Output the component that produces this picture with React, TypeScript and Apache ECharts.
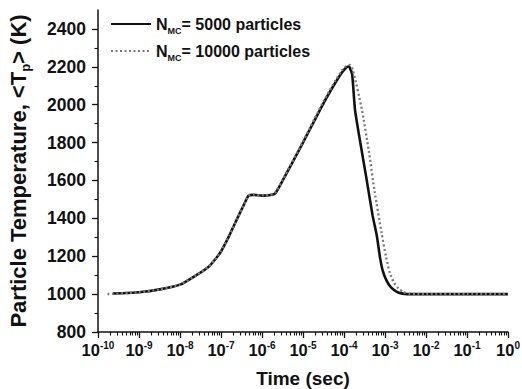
import React, { useEffect, useRef } from "react";
import * as echarts from "echarts";

// Time (s) and mean particle temperature (K)
const timeN5000 = [
  2.3e-10, 1e-9, 3.2e-9, 1e-8, 2.5e-8, 5e-8, 7e-8, 1e-7, 1.6e-7, 2.5e-7, 3.5e-7, 4.7e-7,
  6.3e-7, 1e-6, 1.6e-6, 2.1e-6, 3.2e-6, 1e-5, 3.2e-5, 6.3e-5, 8.9e-5, 1.12e-4, 1.26e-4, 1.35e-4,
  1.58e-4, 1.86e-4, 2.5e-4, 3.55e-4, 5e-4, 6.3e-4, 7.6e-4, 8.9e-4, 1.1e-3, 1.4e-3, 1.95e-3, 2.5e-3,
  3.5e-3, 1e-2, 1e-1, 1,
];
const tempN5000 = [
  1003, 1010, 1025, 1050, 1100, 1145, 1180, 1225, 1310, 1400, 1465, 1520,
  1524, 1520, 1523, 1532, 1600, 1800, 2010, 2120, 2170, 2195, 2202, 2200,
  2160, 1971, 1800, 1607, 1413, 1310, 1190, 1120, 1070, 1035, 1012, 1004,
  1000, 1000, 1000, 1000,
];

const timeN10000 = [
  1.7e-10, 1e-9, 3.2e-9, 1e-8, 2.5e-8, 5e-8, 7e-8, 1e-7, 1.6e-7, 2.5e-7, 3.5e-7, 4.7e-7,
  6.3e-7, 1e-6, 1.6e-6, 2.1e-6, 3.2e-6, 1e-5, 3.2e-5, 6.3e-5, 8.9e-5, 1.12e-4, 1.41e-4,
  1.66e-4, 2.75e-4, 4e-4, 5.6e-4, 8.3e-4, 1.05e-3, 1.32e-3, 1.66e-3, 2.1e-3, 2.8e-3, 4e-3,
  6.3e-3, 1e-2, 1e-1, 1,
];
const tempN10000 = [
  1000, 1010, 1025, 1050, 1100, 1145, 1180, 1225, 1310, 1400, 1465, 1520,
  1526, 1522, 1525, 1535, 1605, 1805, 2020, 2130, 2180, 2203, 2210,
  2180, 1971, 1760, 1540, 1320, 1200, 1110, 1060, 1031, 1010, 1002,
  1000, 1000, 1000, 1000,
];

const yTickValues = [800, 1000, 1200, 1400, 1600, 1800, 2000, 2200, 2400];
const yMinorTickValues = [900, 1100, 1300, 1500, 1700, 1900, 2100, 2300];
const xDecadeExponents = [-10, -9, -8, -7, -6, -5, -4, -3, -2, -1, 0];
const minorMultipliers = [2, 3, 4, 5, 6, 7, 8, 9];

const seriesNames = ["N5000", "N10000"];
const legendLabels: Record<string, string> = {
  N5000: "{n|N}{sub|MC}{n|= 5000 particles}",
  N10000: "{n|N}{sub|MC}{n|= 10000 particles}",
};

const FONT = "Liberation Sans, Arial, sans-serif";
const INK = "#111111";

export default function App() {
  const ref = useRef<HTMLDivElement>(null);

  useEffect(() => {
    if (!ref.current) return;
    const chart = echarts.init(ref.current, undefined, { renderer: "svg" });

    const xMajor = xDecadeExponents.map((e) => Math.pow(10, e));
    const xMinor: number[] = [];
    xDecadeExponents.slice(0, -1).forEach((e) => {
      minorMultipliers.forEach((m) => xMinor.push(m * Math.pow(10, e)));
    });

    chart.setOption({
      animation: false,
      backgroundColor: "#ffffff",
      grid: { left: 98, right: 14, top: 10, bottom: 57, containLabel: false, outerBoundsMode: "none" },
      legend: {
        data: seriesNames,
        orient: "vertical",
        left: 105,
        top: 11,
        itemWidth: 40,
        itemHeight: 14,
        itemGap: 8,
        itemStyle: { opacity: 0 },
        formatter: (name: string) => legendLabels[name],
        textStyle: {
          fontFamily: FONT,
          color: INK,
          rich: {
            n: { fontFamily: FONT, fontSize: 16, fontWeight: "bold", color: INK, lineHeight: 22 },
            sub: { fontFamily: FONT, fontSize: 9, fontWeight: "bold", color: INK, verticalAlign: "bottom", lineHeight: 12 },
          },
        },
      },
      xAxis: [
        {
          type: "log",
          logBase: 10,
          min: 1e-10,
          max: 1,
          position: "bottom",
          name: "Time (sec)",
          nameLocation: "middle",
          nameGap: 37,
          nameTextStyle: { fontFamily: FONT, fontSize: 19, fontWeight: "bold", color: INK },
          axisLine: { show: true, onZero: false, lineStyle: { color: INK, width: 1.5 } },
          axisTick: { show: true, inside: false, length: 6, customValues: xMajor, lineStyle: { color: INK, width: 1.3 } },
          minorTick: { show: false },
          splitLine: { show: false },
          axisLabel: {
            customValues: xMajor,
            margin: 8,
            formatter: (v: number) => `{b|10}{s|${Math.round(Math.log10(v))}}`,
            rich: {
              b: { fontFamily: FONT, fontSize: 16.5, fontWeight: "bold", color: INK, lineHeight: 20 },
              s: { fontFamily: FONT, fontSize: 10, fontWeight: "bold", color: INK, verticalAlign: "top", lineHeight: 12 },
            },
          },
        },
        {
          type: "log",
          logBase: 10,
          min: 1e-10,
          max: 1,
          position: "bottom",
          axisLine: { show: false, onZero: false },
          axisTick: { show: true, inside: false, length: 3.5, customValues: xMinor, lineStyle: { color: INK, width: 1.1 } },
          axisLabel: { show: false },
          splitLine: { show: false },
        },
      ],
      yAxis: [
        {
          type: "value",
          min: 800,
          max: 2500,
          interval: 200,
          position: "left",
          name: "{t|Particle Temperature, <T}{s|p}{t|> (K)}",
          nameLocation: "middle",
          nameGap: 66,
          nameTextStyle: {
            rich: {
              t: { fontFamily: FONT, fontSize: 22, fontWeight: "bold", color: INK, lineHeight: 28 },
              s: { fontFamily: FONT, fontSize: 13, fontWeight: "bold", color: INK, verticalAlign: "bottom", lineHeight: 16 },
            },
          },
          axisLine: { show: true, onZero: false, lineStyle: { color: INK, width: 1.5 } },
          axisTick: { show: true, inside: false, length: 6, customValues: yTickValues, lineStyle: { color: INK, width: 1.3 } },
          splitLine: { show: false },
          axisLabel: {
            customValues: yTickValues,
            margin: 12,
            formatter: (v: number) => String(v),
            fontFamily: FONT,
            fontSize: 17.5,
            fontWeight: "bold",
            color: INK,
          },
        },
        {
          type: "value",
          min: 800,
          max: 2500,
          position: "left",
          axisLine: { show: false, onZero: false },
          axisTick: { show: true, inside: false, length: 3.5, customValues: yMinorTickValues, lineStyle: { color: INK, width: 1.1 } },
          axisLabel: { show: false },
          splitLine: { show: false },
        },
      ],
      series: [
        {
          name: "N5000",
          type: "line",
          data: timeN5000.map((t, i) => [t, tempN5000[i]]),
          showSymbol: false,
          symbol: "none",
          smooth: 0.2,
          lineStyle: { color: "#111111", width: 2.6, type: "solid" },
          itemStyle: { color: "#111111" },
          z: 3,
        },
        {
          name: "N10000",
          type: "line",
          data: timeN10000.map((t, i) => [t, tempN10000[i]]),
          showSymbol: false,
          symbol: "none",
          smooth: 0.2,
          lineStyle: { color: "#7a7a7a", width: 2.3, type: [2, 2.5] },
          itemStyle: { color: "#7a7a7a" },
          z: 4,
        },
      ],
    });

    return () => chart.dispose();
  }, []);

  return <div ref={ref} style={{ width: 522, height: 389, position: "absolute", left: 0, top: 0 }} />;
}
